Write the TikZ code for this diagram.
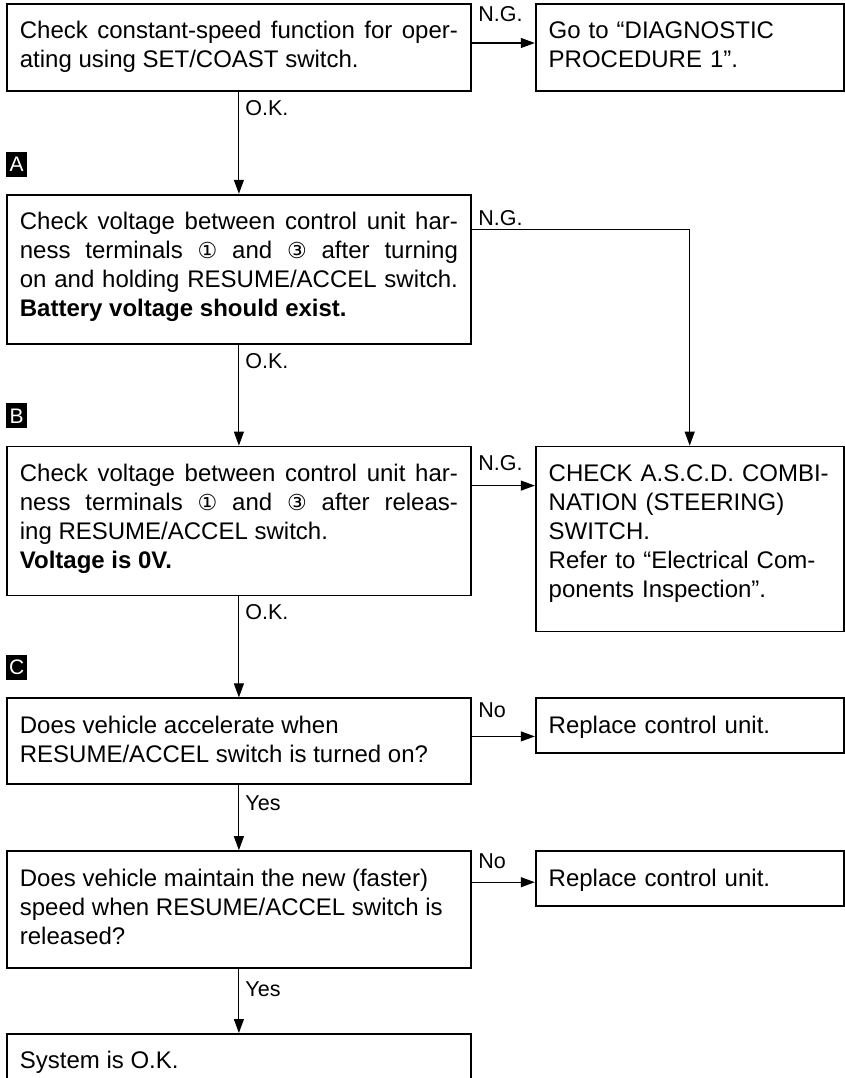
\documentclass[tikz,border=0pt]{standalone}
\usepackage{fontspec}
\setmainfont{Liberation Sans}
\newfontfamily\circfont{DejaVu Sans}
\usetikzlibrary{arrows.meta, positioning}

\newcommand{\term}[1]{{\circfont\fontsize{22}{29}\selectfont #1}}

\tolerance=10000
\hyphenpenalty=10000

\begin{document}
\begin{tikzpicture}[
    x=1pt, y=1pt,
    stepbox/.style={
        rectangle, draw=black, line width=1.8pt,
        text width=438pt, inner xsep=13pt, inner ysep=0pt,
        text height=35pt, align=justify,
        font=\fontsize{24}{29}\selectfont
    },
    sidebox/.style={
        stepbox, text width=282pt, inner xsep=13pt, align=left
    },
    marker/.style={
        rectangle, fill=black, text=white, inner sep=0pt,
        minimum width=21pt, minimum height=25pt,
        font=\fontsize{21}{21}\selectfont
    },
    arrow/.style={-{Triangle[length=14pt, width=10pt]}, line width=1.1pt},
    lbl/.style={font=\fontsize{21.5}{21.5}\selectfont, inner sep=2pt}
]
\useasboundingbox (0,0) rectangle (845,-1078);

% First check and its N.G. branch
\node[stepbox, text depth=52pt, anchor=north west] (setcheck) at (6,-3)
    {Check constant-speed function for oper-\linebreak ating using SET/COAST switch.};
\node[sidebox, text depth=52pt, right=63pt of setcheck] (diag)
    {Go to ``DIAGNOSTIC\\ PROCEDURE 1''.};

% Step A
\node[stepbox, text depth=114pt, below=102pt of setcheck] (resumeon)
    {Check voltage between control unit har-\linebreak ness terminals \term{①} and \term{③} after turning\linebreak on and holding RESUME/ACCEL switch.\linebreak \textbf{Battery voltage should exist.}};
\node[marker, above=17pt of resumeon.north west, anchor=south west] (markA) {A};

% Step B
\node[stepbox, text depth=114pt, below=101pt of resumeon] (resumeoff)
    {Check voltage between control unit har-\linebreak ness terminals \term{①} and \term{③} after releas-\linebreak ing RESUME/ACCEL switch.\\ \textbf{Voltage is 0V.}};
\node[marker, above=17pt of resumeoff.north west, anchor=south west] (markB) {B};
\node[sidebox, text depth=150pt, right=63pt of resumeoff.north east, anchor=north west] (combi)
    {CHECK A.S.C.D. COMBI-\\ NATION (STEERING)\\ SWITCH.\\ Refer to ``Electrical Com-\\ ponents Inspection''.};

% Step C
\node[stepbox, text depth=51pt, below=101pt of resumeoff] (accel)
    {Does vehicle accelerate when\\ RESUME/ACCEL switch is turned on?};
\node[marker, above=17pt of accel.north west, anchor=south west] (markC) {C};
\node[sidebox, text depth=20pt, right=63pt of accel.north east, anchor=north west] (replaceA)
    {Replace control unit.};

\node[stepbox, text depth=82pt, below=65pt of accel] (maintain)
    {Does vehicle maintain the new (faster)\\ speed when RESUME/ACCEL switch is\\ released?};
\node[sidebox, text depth=20pt, right=63pt of maintain.north east, anchor=north west] (replaceB)
    {Replace control unit.};

\node[stepbox, text depth=31pt, below=64pt of maintain] (sysok) {System is O.K.};

% Side exits
\coordinate (ng1) at ([yshift=-40pt]setcheck.north east);
\coordinate (ngA) at ([yshift=-36pt]resumeon.north east);
\coordinate (ngB) at ([yshift=-40pt]resumeoff.north east);
\coordinate (noC) at ([yshift=-39pt]accel.north east);
\coordinate (noD) at ([yshift=-32pt]maintain.north east);

\draw[arrow] (ng1) -- node[lbl, anchor=south west, pos=0, xshift=4pt, yshift=19pt] {N.G.} (ng1 -| diag.west);
\draw[arrow] (ngA) -| node[lbl, anchor=south west, pos=0, xshift=4pt, yshift=2pt] {N.G.} (combi);
\draw[arrow] (ngB) -- node[lbl, anchor=south west, pos=0, xshift=4pt, yshift=12pt] {N.G.} (ngB -| combi.west);
\draw[arrow] (noC) -- node[lbl, anchor=south west, pos=0, xshift=4pt, yshift=16pt] {No} (noC -| replaceA.west);
\draw[arrow] (noD) -- node[lbl, anchor=south west, pos=0, xshift=4pt, yshift=11pt] {No} (noD -| replaceB.west);

% Main path down the left
\draw[arrow] (setcheck) -- node[lbl, anchor=north west, pos=0, xshift=4pt, yshift=-6pt] {O.K.} (resumeon);
\draw[arrow] (resumeon) -- node[lbl, anchor=north west, pos=0, xshift=4pt, yshift=-6pt] {O.K.} (resumeoff);
\draw[arrow] (resumeoff) -- node[lbl, anchor=north west, pos=0, xshift=4pt, yshift=-6pt] {O.K.} (accel);
\draw[arrow] (accel) -- node[lbl, anchor=north west, pos=0, xshift=4pt, yshift=-8pt] {Yes} (maintain);
\draw[arrow] (maintain) -- node[lbl, anchor=north west, pos=0, xshift=4pt, yshift=-10pt] {Yes} (sysok);

\end{tikzpicture}
\end{document}
